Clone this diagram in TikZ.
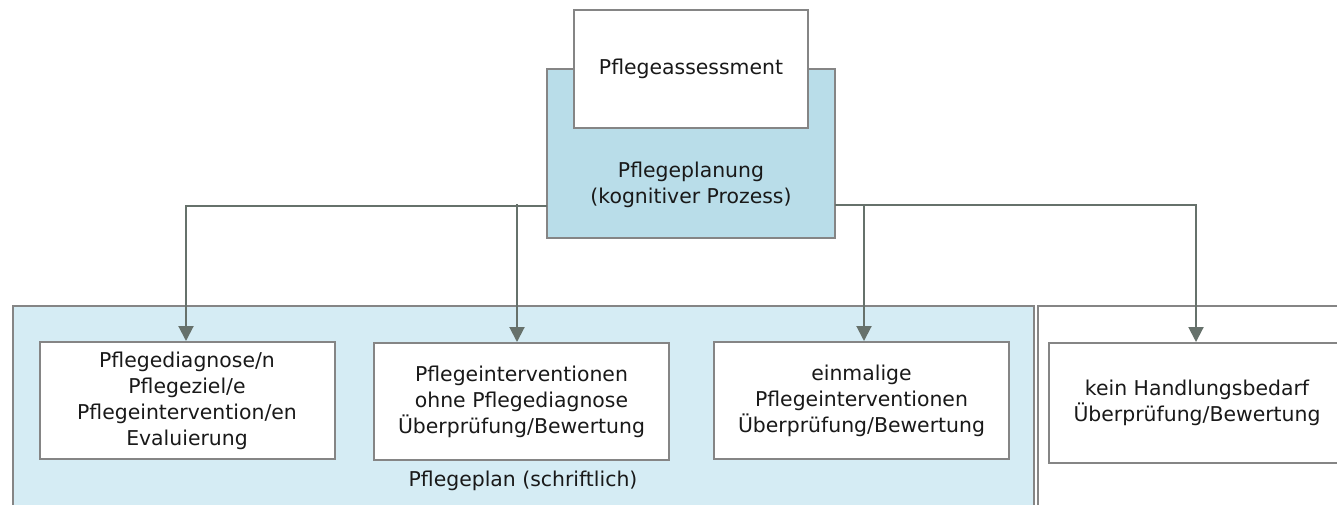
\documentclass[tikz,border=0pt]{standalone}
\usepackage{fontspec}
\setmainfont{DejaVu Sans}
\usetikzlibrary{arrows.meta,positioning}
\definecolor{planblue}{HTML}{B9DDE9}
\definecolor{paperblue}{HTML}{D5ECF4}
\definecolor{framegray}{HTML}{858585}
\definecolor{linkgray}{HTML}{66716B}

\begin{document}
\begin{tikzpicture}[
    x=1pt, y=-1pt,
    every node/.style={font=\fontsize{20.4}{26}\selectfont, text=black!90},
    frame/.style={draw=framegray, line width=2pt},
    stepbox/.style={frame, fill=white, align=center, inner sep=0pt, minimum width=295pt, minimum height=117pt},
    link/.style={draw=linkgray, line width=2pt, -{Triangle[length=15pt,width=15pt]}}
]
\useasboundingbox (0,0) rectangle (1337,504);
\begin{scope}
\clip (0,0) rectangle (1337,504);
% areas
\node[frame, fill=paperblue, minimum width=1021pt, minimum height=225pt, anchor=north west, inner sep=0pt] (pplan) at (12,305) {};
\node[frame, fill=white, minimum width=310pt, minimum height=225pt, anchor=north west, inner sep=0pt] (noneed) at (1037,305) {};
\node (pplantext) at (523,481) {Pflegeplan (schriftlich)};
% top
\node[frame, fill=planblue, minimum width=288pt, minimum height=169pt, inner sep=0pt] (plan) at (691,153.5) {};
\node[frame, fill=white, minimum width=234pt, minimum height=118pt, inner sep=0pt] (assess) at (691,69) {Pflegeassessment};
\node[align=center] (plantext) at (691,185) {Pflegeplanung\\(kognitiver Prozess)};
% boxes
\node[stepbox] (d1) at (187,400.5) {Pflegediagnose/n\\Pflegeziel/e\\Pflegeintervention/en\\Evaluierung};
\node[stepbox] (d2) at (521.5,401.5) {Pflegeinterventionen\\ohne Pflegediagnose\\Überprüfung/Bewertung};
\node[stepbox] (d3) at (861.5,400.5) {einmalige\\Pflegeinterventionen\\Überprüfung/Bewertung};
\node[stepbox, minimum width=296pt, minimum height=120pt] (d4) at (1197,403) {kein Handlungsbedarf\\Überprüfung/Bewertung};
% links
\coordinate (jl) at (547,206);
\coordinate (jr) at (835,205);
\draw[link] (jl) -| ([xshift=-1pt]d1.north);
\draw[link] ([xshift=-4.5pt]d2.north |- 0,204) -- ([xshift=-4.5pt]d2.north);
\draw[link] ([xshift=2.5pt]d3.north |- jr) -- ([xshift=2.5pt]d3.north);
\draw[link] (jr) -| ([xshift=-1pt]d4.north);
\end{scope}
\end{tikzpicture}
\end{document}
